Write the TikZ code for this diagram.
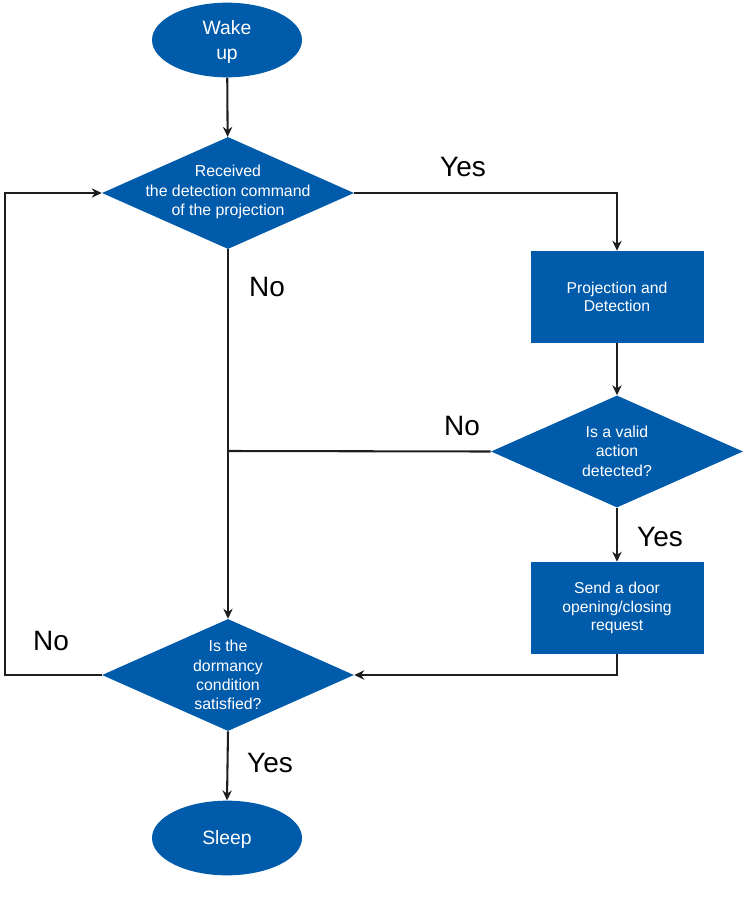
\documentclass[tikz,border=0pt]{standalone}
\usepackage{fontspec}
\setmainfont{Liberation Sans}
\usetikzlibrary{shapes.geometric,arrows.meta}
\definecolor{fcblue}{RGB}{0,91,171}
\definecolor{fcline}{RGB}{30,30,30}
\tikzset{
  every node/.style={inner sep=0pt},
  term/.style={ellipse,fill=fcblue,minimum width=112.5pt,minimum height=56pt},
  termtext/.style={text=white,align=center,font=\fontsize{14.5pt}{18.75pt}\selectfont},
  procbox/.style={rectangle,fill=fcblue,minimum width=129.75pt,minimum height=69pt,text=white,align=center,font=\fontsize{11.8pt}{14pt}\selectfont},
  dia/.style={diamond,fill=fcblue,minimum width=189pt,minimum height=84pt},
  diatext/.style={text=white,align=center,font=\fontsize{11.9pt}{14.5pt}\selectfont},
  ylab/.style={font=\fontsize{21pt}{24pt}\selectfont,text=black},
  conn/.style={draw=fcline,line width=1.55pt},
  arr/.style={conn,-{Stealth[length=7.5pt,width=7pt]}},
}
\begin{document}
\begin{tikzpicture}[x=0.75pt,y=-0.75pt]
\useasboundingbox (0,0) rectangle (748,914);
% nodes
\node[term] (wake) at (227,40) {};
\node[termtext] (waket) at (227,42) {Wake\\up};
\node[dia] (d1) at (228,193) {};
\node[diatext] (d1t) at (228,192) {Received\\the detection command\\of the projection};
\node[procbox] (r1) at (617,297) {Projection and\\Detection};
\node[dia] (d2) at (617,451.5) {};
\node[diatext] (d2t) at (617,451) {Is a valid\\action\\detected?};
\node[procbox] (r2) at (617,608) {Send a door\\opening/closing\\request};
\node[dia] (d3) at (228,675) {};
\node[diatext] (d3t) at (228,675) {Is the\\dormancy\\condition\\satisfied?};
\node[term] (sleep) at (227,838) {};
\node[termtext] (sleept) at (227,839) {Sleep};
\coordinate (lft) at (5,675);
\coordinate (join) at (228,451);
% connectors
\draw[arr] (wake) -- (d1);
\draw[arr] (d1.east) -| (r1.north);
\draw[arr] (d1.south) -- (d3.north);
\draw[arr] (r1.south) -- (d2.north);
\draw[conn] (d2.west) -- (join);
\draw[arr] (d2.south) -- (r2.north);
\draw[arr] (r2.south) |- (d3.east);
\draw[arr] (d3.west) -- (lft) |- (d1.west);
\draw[arr] (d3.south) -- (sleep.north);
% labels
\node[ylab] (l1) at (463,167) {Yes};
\node[ylab] (l2) at (267,287) {No};
\node[ylab] (l3) at (462,426) {No};
\node[ylab] (l4) at (660,537) {Yes};
\node[ylab] (l5) at (51,641) {No};
\node[ylab] (l6) at (270,763) {Yes};
\end{tikzpicture}
\end{document}
